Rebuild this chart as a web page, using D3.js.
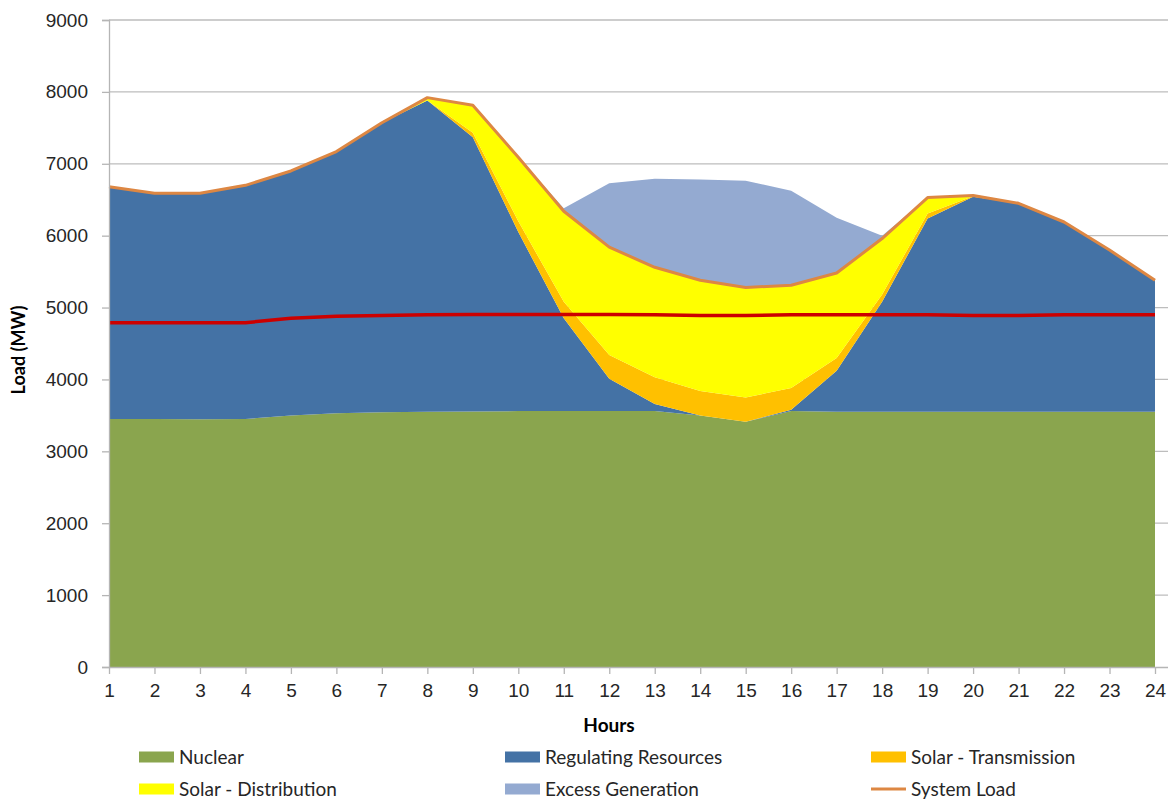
<!DOCTYPE html>
<html>
<head>
<meta charset="utf-8">
<script src="https://cdn.jsdelivr.net/npm/d3@7"></script>
<style>
  body { margin: 0; background: #fff; }
  svg { font-family: Lato, "Open Sans", sans-serif; }
</style>
</head>
<body>
<svg id="chart" width="1170" height="799"></svg>
<script>
// hourly values, MW
const hours = d3.range(1, 25);
const nuclear = [3450, 3450, 3445, 3450, 3500, 3530, 3545, 3550, 3555, 3560, 3560, 3560,
  3560, 3500, 3410, 3560, 3550, 3550, 3550, 3550, 3550, 3550, 3550, 3550];
const regulating = [3230, 3140, 3145, 3250, 3400, 3640, 4025, 4330, 3815, 2490, 1290, 450,
  100, 0, 0, 20, 570, 1530, 2690, 2990, 2900, 2640, 2250, 1830];
const solarTrans = [0, 0, 0, 0, 0, 0, 0, 0, 60, 150, 230, 330,
  370, 340, 340, 300, 180, 100, 70, 10, 0, 0, 0, 0];
const solarDist = [0, 0, 0, 0, 0, 0, 0, 40, 385, 890, 1260, 1500,
  1530, 1540, 1530, 1430, 1180, 780, 220, 10, 0, 0, 0, 0];
const excess = [0, 0, 0, 0, 0, 0, 0, 0, 0, 0, 40, 890,
  1230, 1400, 1485, 1315, 770, 40, 0, 0, 0, 0, 0, 0];
const systemLoad = [6680, 6590, 6590, 6700, 6900, 7170, 7570, 7920, 7815, 7090, 6340, 5840,
  5560, 5380, 5280, 5310, 5480, 5960, 6530, 6560, 6450, 6190, 5800, 5380];
const redLine = [4790, 4790, 4790, 4790, 4850, 4880, 4890, 4900, 4905, 4905, 4905, 4905,
  4900, 4890, 4890, 4900, 4900, 4900, 4900, 4890, 4890, 4900, 4900, 4900];
const yTicks = d3.range(0, 9001, 1000);

const keys = ["Nuclear", "Regulating Resources", "Solar - Transmission", "Solar - Distribution", "Excess Generation"];
const colors = {
  "Nuclear": "#8aa54e",
  "Regulating Resources": "#4472a5",
  "Solar - Transmission": "#ffc000",
  "Solar - Distribution": "#ffff00",
  "Excess Generation": "#94aad1",
  "System Load": "#dd8743"
};

const rows = hours.map((h, i) => ({
  hour: h,
  "Nuclear": nuclear[i],
  "Regulating Resources": regulating[i],
  "Solar - Transmission": solarTrans[i],
  "Solar - Distribution": solarDist[i],
  "Excess Generation": excess[i]
}));

const svg = d3.select("#chart");
const plot = { left: 109, right: 1168, top: 20, bottom: 667 };

const x = d3.scaleLinear().domain([1, 24]).range([109, 1155]);
const y = d3.scaleLinear().domain([0, 9000]).range([plot.bottom, plot.top]);

// gridlines
svg.append("g")
  .selectAll("line")
  .data(yTicks.filter(d => d > 0))
  .enter()
  .append("line")
  .attr("x1", plot.left)
  .attr("x2", plot.right)
  .attr("y1", d => y(d))
  .attr("y2", d => y(d))
  .attr("stroke", "#bdbdbd")
  .attr("stroke-width", 1.3);

// stacked areas
const series = d3.stack().keys(keys)(rows);
const area = d3.area()
  .x(d => x(d.data.hour))
  .y0(d => y(d[0]))
  .y1(d => y(d[1]));

svg.append("g")
  .selectAll("path")
  .data(series)
  .enter()
  .append("path")
  .attr("d", area)
  .attr("fill", d => colors[d.key]);

// lines
const line = d3.line()
  .x((d, i) => x(hours[i]))
  .y(d => y(d));

svg.append("path")
  .attr("d", line(redLine))
  .attr("fill", "none")
  .attr("stroke", "#cc0000")
  .attr("stroke-width", 3.5);

svg.append("path")
  .attr("d", line(systemLoad))
  .attr("fill", "none")
  .attr("stroke", colors["System Load"])
  .attr("stroke-width", 3)
  .attr("stroke-linejoin", "round");

// axes
const yAxis = g =>
  g.attr("transform", `translate(${plot.left},0)`)
    .call(d3.axisLeft(y).tickValues(yTicks).tickSize(7).tickPadding(14).tickFormat(d3.format("d")));

const xAxis = g =>
  g.attr("transform", `translate(0,${plot.bottom})`)
    .call(d3.axisBottom(x).tickValues(hours).tickSize(7).tickPadding(10).tickFormat(d3.format("d")));

svg.append("g").call(yAxis)
  .call(g => g.select(".domain").attr("stroke", "#b5b5b5").attr("stroke-width", 1.3))
  .call(g => g.selectAll(".tick line").attr("stroke", "#b5b5b5").attr("stroke-width", 1.3))
  .call(g => g.selectAll("text").attr("fill", "#262626").style("font-size", "19px"));

svg.append("g").call(xAxis)
  .call(g => g.select(".domain").attr("d", `M${plot.left},0.5H${plot.right}`).attr("stroke", "#b5b5b5").attr("stroke-width", 1.3))
  .call(g => g.selectAll(".tick line").attr("stroke", "#b5b5b5").attr("stroke-width", 1.3))
  .call(g => g.selectAll("text").attr("fill", "#262626").style("font-size", "19px"));

// axis titles
svg.append("text")
  .attr("x", 609)
  .attr("y", 732)
  .attr("text-anchor", "middle")
  .style("font-size", "19px")
  .style("font-weight", "bold")
  .text("Hours");

svg.append("text")
  .attr("transform", "translate(25,350) rotate(-90)")
  .attr("text-anchor", "middle")
  .style("font-size", "18px")
  .style("font-weight", "bold")
  .text("Load (MW)");

// legend
const legendItems = [
  { key: "Nuclear", col: 0, row: 0 },
  { key: "Regulating Resources", col: 1, row: 0 },
  { key: "Solar - Transmission", col: 2, row: 0 },
  { key: "Solar - Distribution", col: 0, row: 1 },
  { key: "Excess Generation", col: 1, row: 1 },
  { key: "System Load", col: 2, row: 1 }
];
const colX = [139, 505, 871];
const rowY = [757, 789];

const legend = svg.append("g")
  .selectAll("g")
  .data(legendItems)
  .enter()
  .append("g")
  .attr("transform", d => `translate(${colX[d.col]},${rowY[d.row]})`);

legend.filter(d => d.key !== "System Load")
  .append("rect")
  .attr("x", 0)
  .attr("y", -5.5)
  .attr("width", 35)
  .attr("height", 11)
  .attr("fill", d => colors[d.key]);

legend.filter(d => d.key === "System Load")
  .append("line")
  .attr("x1", 0)
  .attr("x2", 35)
  .attr("stroke", colors["System Load"])
  .attr("stroke-width", 3);

legend.append("text")
  .attr("x", 40)
  .attr("dy", "0.35em")
  .attr("fill", "#262626")
  .style("font-size", "19px")
  .text(d => d.key);
</script>
</body>
</html>
